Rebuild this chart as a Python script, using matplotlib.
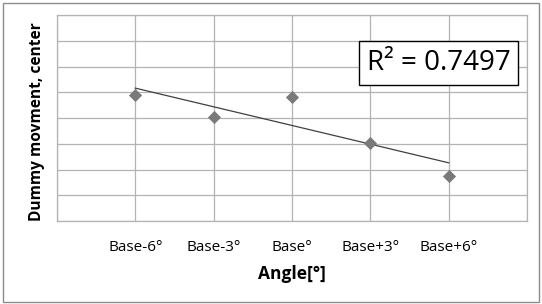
import matplotlib

matplotlib.use("Agg")
import matplotlib.pyplot as plt  # noqa: E402
import numpy as np  # noqa: E402
from matplotlib.patches import Rectangle  # noqa: E402

categories = ["Base-6°", "Base-3°", "Base°", "Base+3°", "Base+6°"]
movement = [4.89, 4.03, 4.83, 3.04, 1.76]
r2_label = "R² = 0.7497"

plt.rcParams["font.family"] = ["Open Sans", "DejaVu Sans"]

fig = plt.figure(figsize=(5.42, 3.04), dpi=100)
ax = fig.add_axes([57 / 542, 1 - 221 / 304, 470 / 542, 206 / 304])

x = np.arange(1, len(categories) + 1)
y = np.array(movement)

slope, intercept = np.polyfit(x, y, 1)
ax.plot(x, slope * x + intercept, color="#404040", linewidth=0.9, zorder=3)
ax.scatter(x, y, marker="D", s=45, color="#7a7a7a", zorder=4, linewidths=0)

ax.set_xlim(0, 6)
ax.set_ylim(0, 8)
ax.set_xticks(range(0, 7), minor=False)
ax.set_xticklabels([""] + categories + [""])
ax.set_yticks(range(0, 9))
ax.set_yticklabels([])
ax.grid(True, color="#b3b3b3", linewidth=0.9)
ax.set_axisbelow(True)
ax.tick_params(length=0, pad=14, labelsize=11, colors="#000000")
for spine in ax.spines.values():
    spine.set_color("#b3b3b3")
    spine.set_linewidth(0.9)

ax.set_xlabel("Angle[°]", fontsize=12.5, fontweight="bold", va="center")
ax.xaxis.set_label_coords(0.5, -(274 - 221) / 206)
ax.set_ylabel("Dummy movment, center", fontsize=11.2, fontweight="bold", va="center")
ax.yaxis.set_label_coords(-20 / 470, (221 - 122) / 206)

ax.text(4.87, 6.14, r2_label, fontsize=20, ha="center", va="center",
        bbox=dict(boxstyle="square,pad=0.28", facecolor="white", edgecolor="#000000", linewidth=1.0),
        zorder=5)

fig.patches.append(Rectangle((3 / 542, 2 / 304), 536 / 542, 299 / 304, transform=fig.transFigure,
                             fill=False, edgecolor="#8c8c8c", linewidth=1.0))

fig.savefig("out.png", dpi=100)
